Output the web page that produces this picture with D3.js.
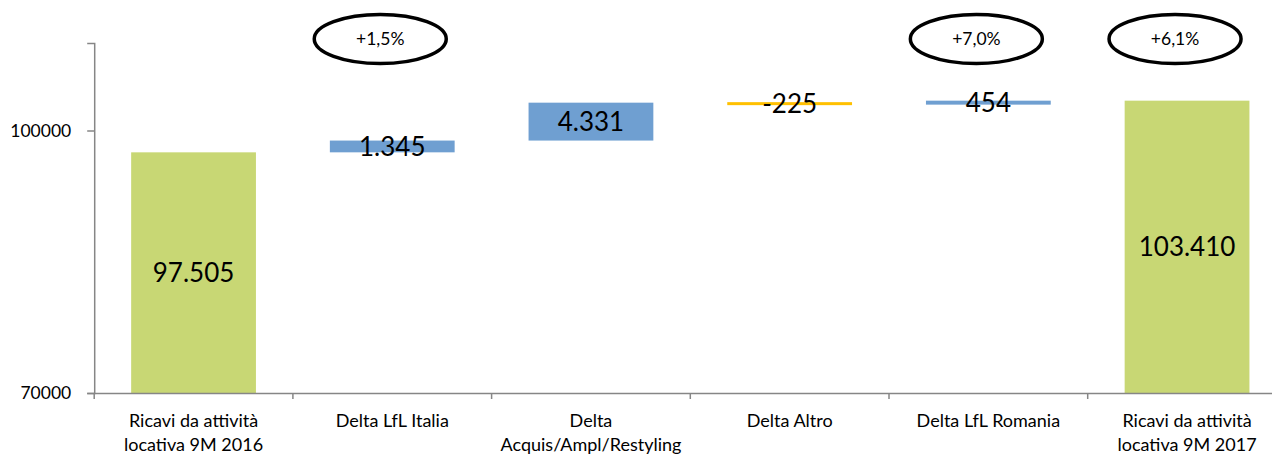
<!DOCTYPE html>
<html>
<head>
<meta charset="utf-8">
<script src="https://cdn.jsdelivr.net/npm/d3@7"></script>
<style>
  html, body { margin: 0; padding: 0; background: #ffffff; }
  svg { display: block; }
  text { font-family: Lato, "Open Sans", sans-serif; fill: #000; }
</style>
</head>
<body>
<svg id="chart" width="1272" height="455"></svg>
<script>
// ---- data ----
const categories = [
  "Ricavi da attività\nlocativa 9M 2016",
  "Delta LfL Italia",
  "Delta\nAcquis/Ampl/Restyling",
  "Delta Altro",
  "Delta LfL Romania",
  "Ricavi da attività\nlocativa 9M 2017"
];
const values = [97505, 1345, 4331, -225, 454, 103410];
const isTotal = [true, false, false, false, false, true];
const growthLabels = ["", "+1,5%", "", "", "+7,0%", "+6,1%"];
const yTicks = [70000, 100000];
const yDomain = [70000, 110000];

// ---- layout ----
const svg = d3.select("#chart");
const mLeft = 94.2, mBottom = 393, mTop = 43;
const bandW = 198.7;

const x = d3.scaleBand()
  .domain(categories)
  .range([mLeft, mLeft + bandW * categories.length])
  .padding(0);

const y = d3.scaleLinear().domain(yDomain).range([mBottom, mTop]);

const itFmt = d3.formatLocale({ decimal: ",", thousands: ".", grouping: [3], currency: ["", "€"], minus: "-" }).format(",d");

// waterfall computation
let running = 0;
const bars = categories.map((c, i) => {
  let y0, y1;
  if (isTotal[i]) { y0 = yDomain[0]; y1 = values[i]; running = values[i]; }
  else { y0 = running; y1 = running + values[i]; running = y1; }
  return { cat: c, v: values[i], lo: Math.min(y0, y1), hi: Math.max(y0, y1), total: isTotal[i], pct: growthLabels[i] };
});

const barW = x.bandwidth() * 0.628;
const colorFor = d => d.total ? "#C8D774" : (d.v >= 0 ? "#6F9FD1" : "#FFC000");

// bars
svg.append("g").selectAll("rect").data(bars).join("rect")
  .attr("x", d => x(d.cat) + (x.bandwidth() - barW) / 2)
  .attr("width", barW)
  .attr("y", d => {
    const h = y(d.lo) - y(d.hi);
    return h < 3 ? (y(d.lo) + y(d.hi)) / 2 - 1.5 : y(d.hi);
  })
  .attr("height", d => Math.max(3, y(d.lo) - y(d.hi)))
  .attr("fill", colorFor);

// y axis
const yAxis = d3.axisLeft(y).tickValues(yTicks).tickSize(7).tickPadding(16).tickFormat(d3.format("d"));
const gy = svg.append("g").attr("transform", `translate(${mLeft},0)`).call(yAxis);
gy.select(".domain").attr("stroke", "#868686").attr("stroke-width", 1.5);
gy.selectAll(".tick line").attr("stroke", "#868686").attr("stroke-width", 1.5);
gy.selectAll(".tick text").style("font-family", "Lato, sans-serif").style("font-size", "17.5px").attr("fill", "#000");

// x axis
const xAxis = d3.axisBottom(x).tickSize(0).tickFormat("");
const gx = svg.append("g").attr("transform", `translate(0,${mBottom})`).call(xAxis);
gx.select(".domain").attr("stroke", "#868686").attr("stroke-width", 1.5);
gx.selectAll(".tick").remove();
// category separators
const bounds = categories.map(c => x(c)).concat([x.range()[1]]);
gx.selectAll("line.sep").data(bounds).join("line")
  .attr("class", "sep")
  .attr("x1", d => d).attr("x2", d => d)
  .attr("y1", 0).attr("y2", 6)
  .attr("stroke", "#868686").attr("stroke-width", 1.5);

// category labels
const catG = svg.append("g");
categories.forEach(c => {
  const lines = c.split("\n");
  const t = catG.append("text")
    .attr("x", x(c) + x.bandwidth() / 2)
    .attr("y", 427)
    .attr("text-anchor", "middle")
    .style("font-size", "18px");
  lines.forEach((ln, k) => {
    t.append("tspan").attr("x", x(c) + x.bandwidth() / 2).attr("dy", k === 0 ? 0 : 24).text(ln);
  });
});

// value labels
svg.append("g").selectAll("text").data(bars).join("text")
  .attr("x", d => x(d.cat) + x.bandwidth() / 2)
  .attr("y", d => (y(d.lo) + y(d.hi)) / 2)
  .attr("dy", "0.36em")
  .attr("text-anchor", "middle")
  .style("font-size", "26px")
  .text(d => itFmt(d.v));

// growth ellipses
const eg = svg.append("g").selectAll("g").data(bars.filter(d => d.pct)).join("g")
  .attr("transform", d => `translate(${x(d.cat) + x.bandwidth() / 2 - 12},39)`);
eg.append("ellipse").attr("rx", 66).attr("ry", 24.5)
  .attr("fill", "none").attr("stroke", "#000").attr("stroke-width", 3.5);
eg.append("text").attr("text-anchor", "middle").attr("dy", "0.36em")
  .style("font-size", "17.5px").text(d => d.pct);
</script>
</body>
</html>
